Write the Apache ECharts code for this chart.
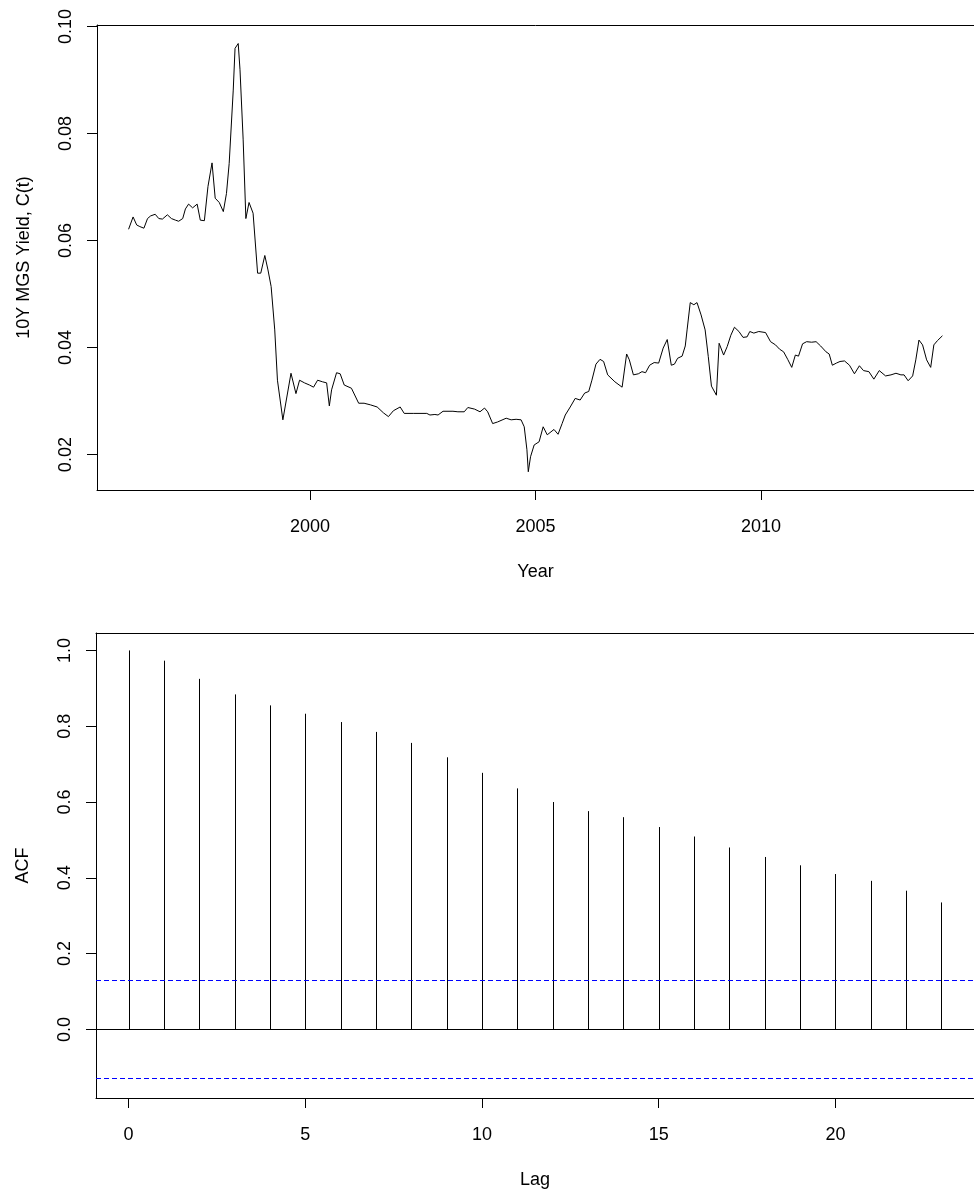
<!DOCTYPE html>
<html>
<head>
<meta charset="utf-8">
<script src="https://cdn.jsdelivr.net/npm/echarts@6/dist/echarts.min.js"></script>
<style>
html,body{margin:0;padding:0;background:#fff;}
#chart{width:974px;height:1193px;}
</style>
</head>
<body>
<div id="chart"></div>
<script>
// ---- Data: 10Y MGS yield (decimal year, yield) ----
const years = [
1995.98,1996.08,1996.16,1996.23,1996.32,1996.40,1996.47,1996.57,1996.65,1996.73,1996.84,1996.93,
1997.02,1997.09,1997.18,1997.24,1997.31,1997.40,1997.50,1997.57,1997.66,1997.74,1997.83,1997.90,1997.99,
1998.08,1998.15,1998.21,1998.30,1998.34,1998.41,1998.45,1998.52,1998.58,1998.65,1998.74,1998.84,1998.91,
1999.00,1999.07,1999.14,1999.22,1999.28,1999.40,1999.58,1999.69,1999.77,1999.88,1999.99,
2000.08,2000.17,2000.28,2000.37,2000.43,2000.48,2000.59,2000.67,2000.76,2000.92,
2001.08,2001.20,2001.34,2001.49,2001.63,2001.74,2001.85,2002.00,2002.09,2002.29,2002.59,2002.66,2002.77,2002.84,2002.95,
2003.17,2003.28,2003.42,2003.50,2003.65,2003.77,2003.87,2003.94,
2004.05,2004.16,2004.35,2004.46,2004.57,2004.68,2004.75,2004.81,2004.84,2004.89,2004.97,
2005.08,2005.17,2005.26,2005.41,2005.50,2005.59,2005.66,2005.77,2005.88,2005.99,
2006.09,2006.18,2006.25,2006.34,2006.43,2006.51,2006.60,2006.76,2006.92,
2007.02,2007.08,2007.17,2007.28,2007.36,2007.44,2007.53,2007.63,2007.73,2007.83,2007.92,
2008.01,2008.08,2008.15,2008.25,2008.32,2008.36,2008.43,2008.51,2008.58,2008.67,2008.76,2008.83,2008.90,
2009.01,2009.07,2009.17,2009.25,2009.33,2009.41,2009.51,2009.60,2009.69,2009.75,2009.84,2009.95,
2010.10,2010.21,2010.32,2010.41,2010.50,2010.59,2010.68,2010.76,2010.83,2010.92,
2011.01,2011.12,2011.22,2011.32,2011.44,2011.51,2011.58,2011.67,2011.75,2011.85,2011.96,
2012.07,2012.18,2012.27,2012.39,2012.50,2012.62,2012.76,2012.88,2012.99,
2013.10,2013.17,2013.26,2013.36,2013.43,2013.50,2013.58,2013.67,2013.76,2013.83,2013.91,2014.02
];
const yields = [
0.0621,0.0644,0.0629,0.0626,0.0623,0.0641,0.0646,0.0649,0.0641,0.0640,0.0648,0.0641,
0.0638,0.0636,0.0641,0.0659,0.0668,0.0661,0.0668,0.0638,0.0637,0.0701,0.0745,0.0679,0.0671,
0.0654,0.0688,0.0744,0.0881,0.0959,0.0968,0.0919,0.0788,0.0641,0.0671,0.0651,0.0539,0.0539,
0.0572,0.0545,0.0514,0.0433,0.0339,0.0265,0.0352,0.0314,0.0339,0.0334,0.0330,
0.0326,0.0339,0.0336,0.0334,0.0291,0.0321,0.0353,0.0351,0.0330,0.0324,
0.0296,0.0296,0.0293,0.0289,0.0278,0.0271,0.0282,0.0289,0.0277,0.0277,0.0277,0.0274,0.0275,0.0274,0.0281,
0.0281,0.0280,0.0280,0.0288,0.0285,0.0280,0.0287,0.0280,
0.0258,0.0261,0.0268,0.0265,0.0266,0.0265,0.0252,0.0209,0.0168,0.0196,0.0218,
0.0224,0.0252,0.0237,0.0247,0.0238,0.0258,0.0274,0.0289,0.0305,0.0302,
0.0315,0.0318,0.0339,0.0369,0.0378,0.0374,0.0349,0.0336,0.0326,
0.0388,0.0377,0.0349,0.0351,0.0355,0.0353,0.0367,0.0372,0.0371,0.0399,0.0415,
0.0367,0.0369,0.0380,0.0384,0.0403,0.0433,0.0484,0.0480,0.0484,0.0461,0.0433,0.0383,0.0328,
0.0311,0.0408,0.0386,0.0402,0.0423,0.0438,0.0430,0.0419,0.0420,0.0430,0.0427,0.0430,
0.0428,0.0411,0.0405,0.0397,0.0392,0.0378,0.0363,0.0386,0.0384,0.0407,
0.0411,0.0410,0.0411,0.0403,0.0392,0.0388,0.0367,0.0371,0.0374,0.0375,0.0367,
0.0351,0.0366,0.0357,0.0355,0.0341,0.0357,0.0347,0.0349,0.0352,
0.0349,0.0349,0.0338,0.0347,0.0377,0.0414,0.0405,0.0377,0.0363,0.0405,0.0413,0.0422
];
// ---- ACF ----
const lags = [0,1,2,3,4,5,6,7,8,9,10,11,12,13,14,15,16,17,18,19,20,21,22,23];
const acfValues = [1.000,0.973,0.925,0.884,0.855,0.833,0.811,0.785,0.756,0.718,0.677,0.636,
                   0.600,0.576,0.560,0.534,0.509,0.480,0.455,0.433,0.410,0.392,0.366,0.335];
const ciBound = 0.134;
// ---- tick labels ----
const yearTicks = [2000,2005,2010];
const yieldTicks = [0.02,0.04,0.06,0.08,0.10];
const lagTicks = [0,5,10,15,20];
const acfTicks = [0.0,0.2,0.4,0.6,0.8,1.0];

const FONT = '"Liberation Sans", Arial, sans-serif';
const FS = 18;
const ink = '#000';

const lineData = years.map((y,i)=>[y, yields[i]]);
const acfData = lags.map((l,i)=>[l, acfValues[i]]);

function valueAxisBase(extra){
  return Object.assign({
    type:'value', scale:false,
    splitLine:{show:false},
    axisLine:{show:true, onZero:false, lineStyle:{color:ink, width:1}},
    axisTick:{show:true, inside:false, length:10, lineStyle:{color:ink, width:1}},
    axisLabel:{color:ink, fontFamily:FONT, fontSize:FS},
    nameTextStyle:{color:ink, fontFamily:FONT, fontSize:FS},
    nameLocation:'middle'
  }, extra);
}
function boxTop(gridIndex, min, max){
  return {type:'value', gridIndex, position:'top', min, max,
    axisLine:{show:true, onZero:false, lineStyle:{color:ink,width:1}},
    axisTick:{show:false}, axisLabel:{show:false}, splitLine:{show:false}};
}

const X1MIN = 1995.28, X1MAX = 2014.72;
const Y1MIN = 0.01339, Y1MAX = 0.10026;
const X2MIN = -0.92, X2MAX = 23.92;
const Y2MIN = -0.181, Y2MAX = 1.046;

const option = {
  animation:false,
  backgroundColor:'#fff',
  grid:[
    {left:97, top:25, width:884, height:465, containLabel:false},
    {left:96, top:633, width:885.5, height:465, containLabel:false}
  ],
  xAxis:[
    valueAxisBase({gridIndex:0, min:X1MIN, max:X1MAX, name:'Year', nameGap:73,
      axisTick:{show:true, length:10, customValues:yearTicks, lineStyle:{color:ink}},
      axisLabel:{color:ink, fontFamily:FONT, fontSize:FS, margin:28, customValues:yearTicks,
        formatter:v=>String(Math.round(v))}}),
    boxTop(0, X1MIN, X1MAX),
    valueAxisBase({gridIndex:1, min:X2MIN, max:X2MAX, name:'Lag', nameGap:73,
      axisTick:{show:true, length:10, customValues:lagTicks, lineStyle:{color:ink}},
      axisLabel:{color:ink, fontFamily:FONT, fontSize:FS, margin:28, customValues:lagTicks,
        formatter:v=>String(Math.round(v))}}),
    boxTop(1, X2MIN, X2MAX)
  ],
  yAxis:[
    valueAxisBase({gridIndex:0, min:Y1MIN, max:Y1MAX, name:'10Y MGS Yield, C(t)', nameGap:64,
      axisTick:{show:true, length:10, customValues:yieldTicks, lineStyle:{color:ink}},
      axisLabel:{color:ink, fontFamily:FONT, fontSize:FS, margin:22, rotate:90, customValues:yieldTicks,
        formatter:v=>v.toFixed(2)}}),
    valueAxisBase({gridIndex:1, min:Y2MIN, max:Y2MAX, name:'ACF', nameGap:64,
      axisTick:{show:true, length:10, customValues:acfTicks, lineStyle:{color:ink}},
      axisLabel:{color:ink, fontFamily:FONT, fontSize:FS, margin:22, rotate:90, customValues:acfTicks,
        formatter:v=>v.toFixed(1)}})
  ],
  series:[
    {type:'line', xAxisIndex:0, yAxisIndex:0, data:lineData, showSymbol:false, symbol:'none',
      lineStyle:{color:'#000', width:1}, silent:true},
    {type:'custom', xAxisIndex:2, yAxisIndex:1, data:acfData, silent:true,
      encode:{x:0, y:1},
      renderItem:(params, api)=>{
        const p0 = api.coord([api.value(0), 0]);
        const p1 = api.coord([api.value(0), api.value(1)]);
        const x = Math.round(p0[0]) + 0.5;
        return {type:'line', shape:{x1:x, y1:p0[1], x2:x, y2:p1[1]},
          style:{stroke:'#000', lineWidth:1}};
      },
      markLine:{silent:true, symbol:['none','none'], label:{show:false}, animation:false,
        data:[
          {yAxis:0, lineStyle:{color:'#000', width:1, type:'solid'}},
          {yAxis:ciBound, lineStyle:{color:'#0000FF', width:1, type:[5,3]}},
          {yAxis:-ciBound, lineStyle:{color:'#0000FF', width:1, type:[5,3]}}
        ]}
    }
  ]
};
const chart = echarts.init(document.getElementById('chart'), null, {renderer:'canvas'});
chart.setOption(option);
</script>
</body>
</html>
